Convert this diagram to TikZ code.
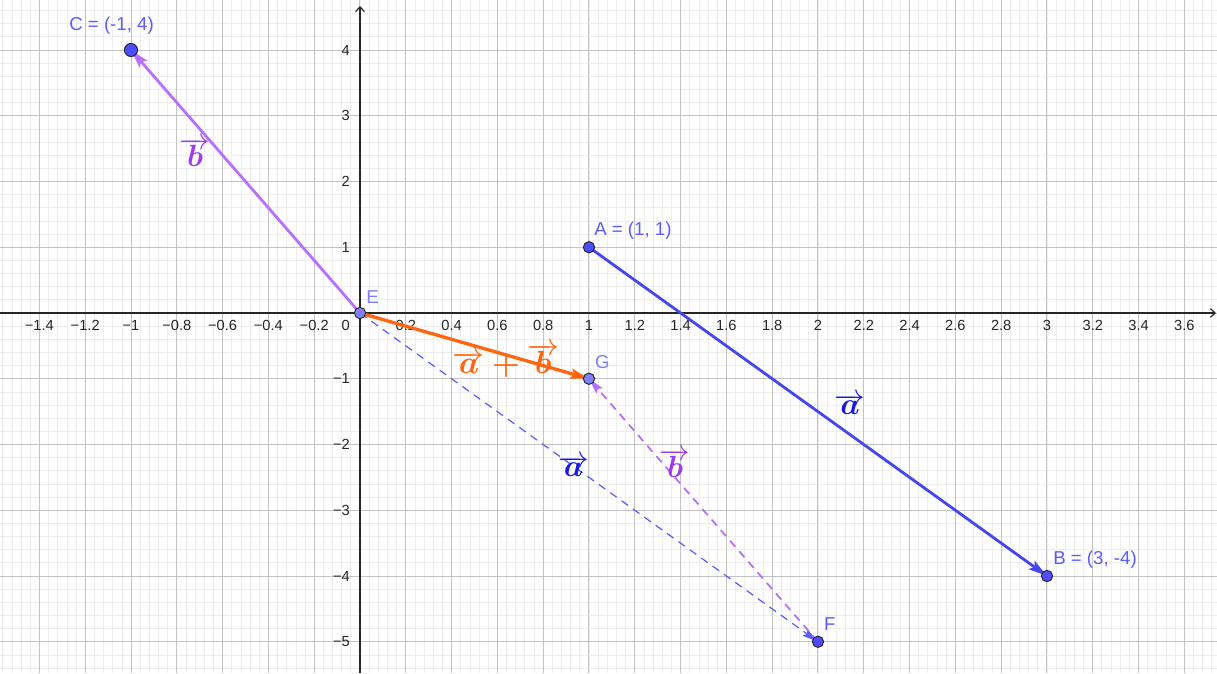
\RequirePackage{fix-cm}
\documentclass[tikz,border=0pt]{standalone}
\usepackage{bm}
\usepackage{fontspec}
\newfontfamily\arialf{Liberation Sans}
\usetikzlibrary{arrows.meta}
\makeatletter
\newcommand\vecar[1]{\vbox{\m@th\ialign{##\crcr\rightarrowfill\crcr\noalign{\kern-3.5pt\nointerlineskip}$\hfil\displaystyle{#1}\hfil$\crcr}}}
\makeatother
\definecolor{ptblue}{RGB}{77,77,255}
\definecolor{ptlight}{RGB}{128,128,255}
\definecolor{labblue}{RGB}{92,92,255}
\definecolor{vecblue}{RGB}{70,70,240}
\definecolor{vecpurple}{RGB}{183,112,255}
\definecolor{txtpurple}{RGB}{155,60,240}
\definecolor{txtblue}{RGB}{25,25,230}
\definecolor{vecorange}{RGB}{255,102,17}
\definecolor{majgrid}{RGB}{195,195,195}
\definecolor{mingrid}{RGB}{238,238,238}
\definecolor{dashblue}{RGB}{90,90,255}
\definecolor{dashpurple}{RGB}{180,110,255}
\begin{document}
\begin{tikzpicture}[x=171.75pt, y=49.3125pt,
  minorgrid/.style={draw=mingrid, line width=0.55pt},
  majorgrid/.style={draw=majgrid, line width=0.75pt},
  axisline/.style={draw=black!85, line width=0.9pt, -{Straight Barb[length=3.5pt,width=6.5pt]}},
  ticklab/.style={font=\arialf\fontsize{11}{13}\selectfont, text=black!85, inner sep=0pt},
  ptlab/.style={font=\arialf\fontsize{14}{16}\selectfont, inner sep=0pt, anchor=west},
  vecline/.style={line width=2.1pt, -{Stealth[length=14pt,width=7.5pt,inset=2.5pt]}},
  dashvec/.style={dash pattern=on 6pt off 4.5pt, -{Stealth[length=12pt,width=6pt,inset=2pt]}},
  pt/.style={circle, draw=black!85, line width=0.7pt, fill=ptblue, minimum size=8.5pt, inner sep=0pt},
  veclab/.style={inner sep=0pt, anchor=base, font=\fontsize{23}{27}\selectfont}
]
\useasboundingbox (-1.57205,-5.47529) rectangle (3.74236,4.76046);
\fill[white] (-1.57205,-5.47529) rectangle (3.74236,4.76046);
% grid
\foreach \i in {-39,...,93} {\draw[minorgrid] ({\i*0.04},-5.47529) -- ({\i*0.04},4.76046);}
\foreach \i in {-27,...,23} {\draw[minorgrid] (-1.57205,{\i*0.2}) -- (3.74236,{\i*0.2});}
\foreach \i in {-7,...,18} {\draw[majorgrid] ({\i*0.2},-5.47529) -- ({\i*0.2},4.76046);}
\foreach \i in {-5,...,4} {\draw[majorgrid] (-1.57205,\i) -- (3.74236,\i);}
% axes
\coordinate (xl) at (-1.57205,0);
\coordinate (xr) at (3.738,0);
\coordinate (yb) at (0,-5.47529);
\coordinate (ytop) at (0,4.669);
\draw[axisline] (xl) -- (xr);
\draw[axisline] (yb) -- (ytop);
% tick labels
\foreach \v/\t [count=\k] in {-1.4/−1.4,-1.2/−1.2,-1/−1,-0.8/−0.8,-0.6/−0.6,-0.4/−0.4,-0.2/−0.2,0.2/0.2,0.4/0.4,0.6/0.6,0.8/0.8,1/1,1.2/1.2,1.4/1.4,1.6/1.6,1.8/1.8,2/2,2.2/2.2,2.4/2.4,2.6/2.6,2.8/2.8,3/3,3.2/3.2,3.4/3.4,3.6/3.6}
  {\node[ticklab, yshift=-9pt] (xt\k) at (\v,0) {\t};}
\foreach \v/\t [count=\k] in {4/4,3/3,2/2,1/1,-1/−1,-2/−2,-3/−3,-4/−4,-5/−5}
  {\node[ticklab, anchor=east, xshift=-7.5pt] (yt\k) at (0,\v) {\t};}
\node[ticklab, anchor=east, xshift=-7.5pt, yshift=-9pt] (x0) at (0,0) {0};
% points
\coordinate (A) at (1,1);
\coordinate (B) at (3,-4);
\coordinate (C) at (-1,4);
\coordinate (E) at (0,0);
\coordinate (F) at (2,-5);
\coordinate (G) at (1,-1);
% vectors
\draw[dashvec, dashblue, line width=0.9pt] (E) -- (F);
\draw[dashvec, dashpurple, line width=1.3pt] (F) -- (G);
\draw[vecline, vecblue] (A) -- (B);
\draw[vecline, vecpurple] (E) -- (C);
\draw[vecline, vecorange, line width=2.5pt] (E) -- (G);
% point markers
\node[pt, minimum size=9.8pt] (Cp) at (C) {};
\node[pt] (Ap) at (A) {};
\node[pt] (Bp) at (B) {};
\node[pt] (Fp) at (F) {};
\node[pt, fill=ptlight] (Ep) at (E) {};
\node[pt, fill=ptlight] (Gp) at (G) {};
% point labels
\node[ptlab, text=labblue] (Clab) at (-1.2707,4.365) {C = (-1, 4)};
\node[ptlab, text=labblue] (Alab) at (1.0218,1.2517) {A = (1, 1)};
\node[ptlab, text=labblue] (Blab) at (3.0262,-3.757) {B = (3, -4)};
\node[ptlab, text=labblue] (Flab) at (2.026,-4.730) {F};
\node[ptlab, text=ptlight] (Elab) at (0.0262,0.243) {E};
\node[ptlab, text=ptlight] (Glab) at (1.026,-0.741) {G};
% vector labels
\node[veclab, text=txtpurple] (bl1) at (-0.7205,2.2357) {$\vecar{\bm{b}}$};
\node[veclab, text=txtblue] (al1) at (2.1397,-1.5361) {$\vecar{\bm{a}}$};
\node[veclab, text=txtblue] (al2) at (0.9323,-2.4791) {$\vecar{\bm{a}}$};
\node[veclab, text=txtpurple] (bl2) at (1.3755,-2.4943) {$\vecar{\bm{b}}$};
\node[veclab, text=vecorange, font=\fontsize{24}{28}\selectfont] (abl) at (0.6376,-0.9125) {$\vecar{\bm{a}}\bm{+}\vecar{\bm{b}}$};
\end{tikzpicture}
\end{document}
